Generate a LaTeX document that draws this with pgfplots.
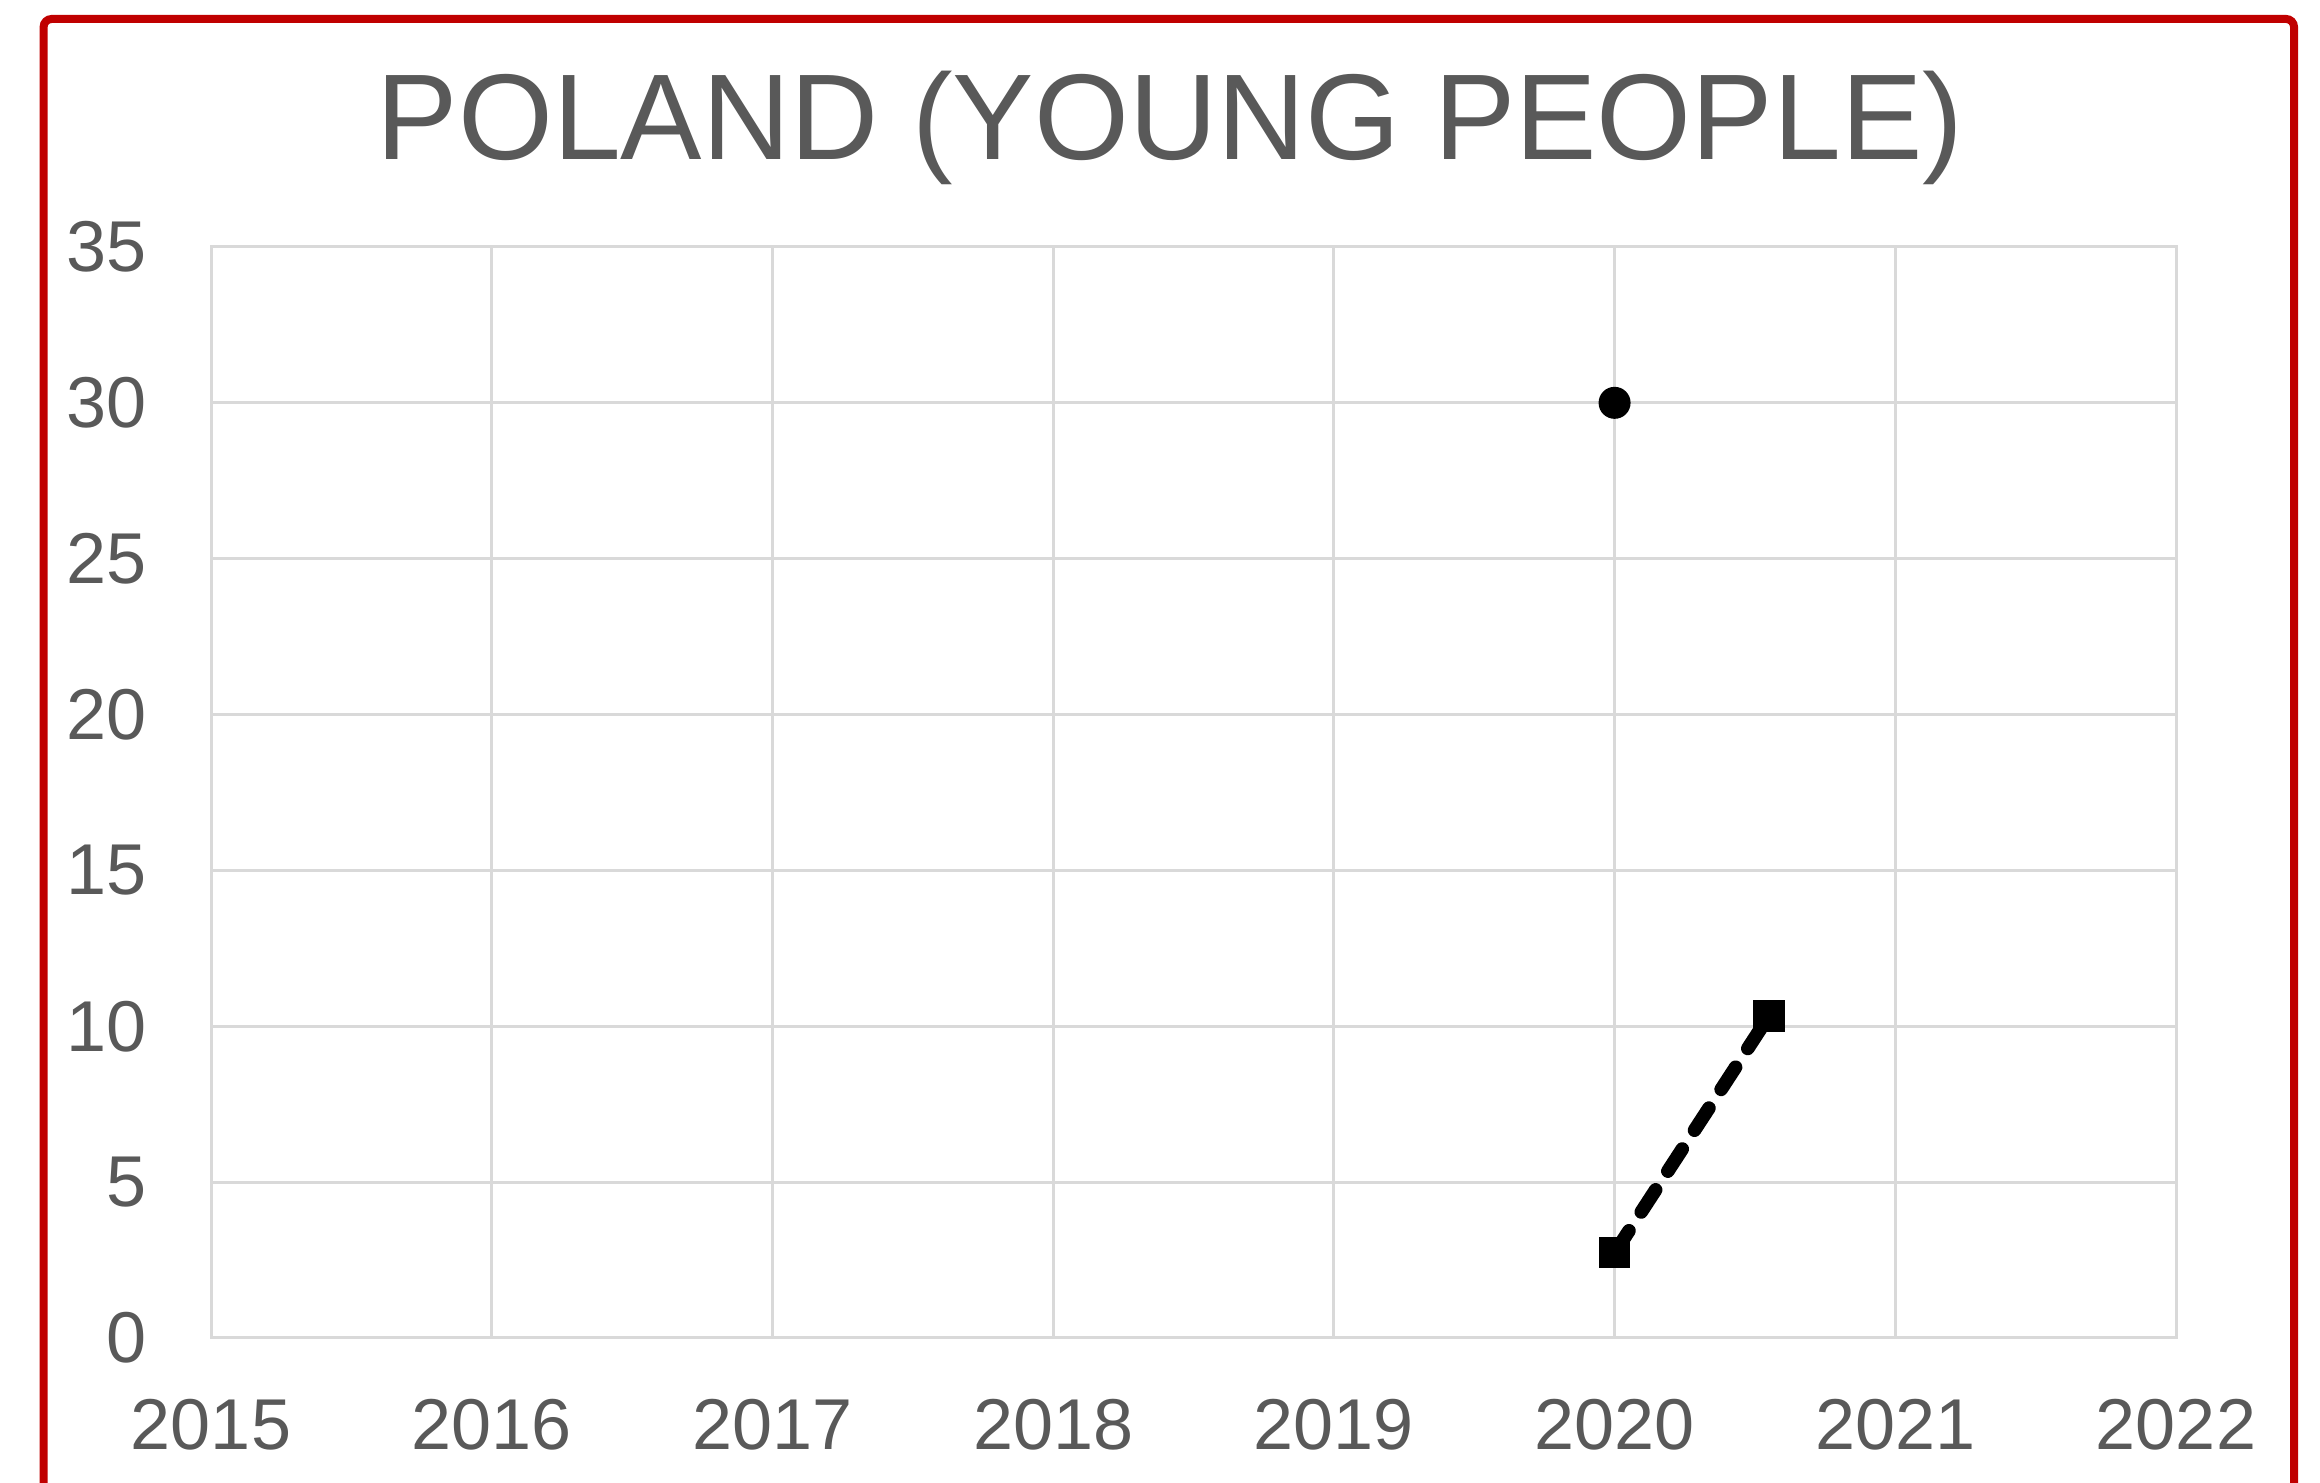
\documentclass[border=0pt]{standalone}
\usepackage{fontspec}
\setmainfont{Liberation Sans}
\usepackage{pgfplots}
\pgfplotsset{compat=1.18}
\definecolor{txtgray}{HTML}{595959}
\definecolor{gridgray}{HTML}{D9D9D9}
\definecolor{framered}{HTML}{C00000}
\begin{document}
\begin{tikzpicture}[x=1pt,y=1pt]
\begin{axis}[
  at={(52.75pt,36.25pt)}, anchor=south west,
  scale only axis, width=491.25pt, height=272.75pt,
  xmin=2015, xmax=2022, ymin=0, ymax=35,
  xtick={2015,2016,...,2022}, ytick={0,5,...,35},
  grid=major, major grid style={draw=gridgray, line width=0.75pt},
  axis line style={draw=gridgray, line width=0.75pt},
  major tick length=0pt,
  tick style={draw=none},
  /pgf/number format/assume math mode=true,
  /pgf/number format/1000 sep={},
  ticklabel style={font=\fontsize{18}{20}\selectfont, text=txtgray, inner sep=0pt},
  yticklabel style={anchor=east, xshift=-16pt},
  xticklabel style={anchor=north, yshift=-15pt},
  clip=false,
]
\addplot[only marks, mark=*, mark size=3.8pt, black, mark options={line width=0.4pt}] coordinates {(2020,30)};
\addplot[no marks, draw=black, line width=3.4pt, dash pattern=on 6.6pt off 5.6pt, line cap=round]
  coordinates {(2020,2.73) (2020.55,10.33)};
\addplot[only marks, black, mark=square*, mark size=3.7pt, mark options={solid, line width=0.4pt}]
  coordinates {(2020,2.73) (2020.55,10.33)};
\end{axis}
\node[anchor=base, text=txtgray, font=\fontsize{30.5}{36}\selectfont] at (292.5pt,330.75pt) {POLAND (YOUNG PEOPLE)};
\draw[framered, line width=2pt, rounded corners=2pt] (10.9pt,-20pt) rectangle (573.5pt,366pt);
\pgfresetboundingbox
\useasboundingbox (0,0) rectangle (580pt,370.75pt);
\end{tikzpicture}
\end{document}
